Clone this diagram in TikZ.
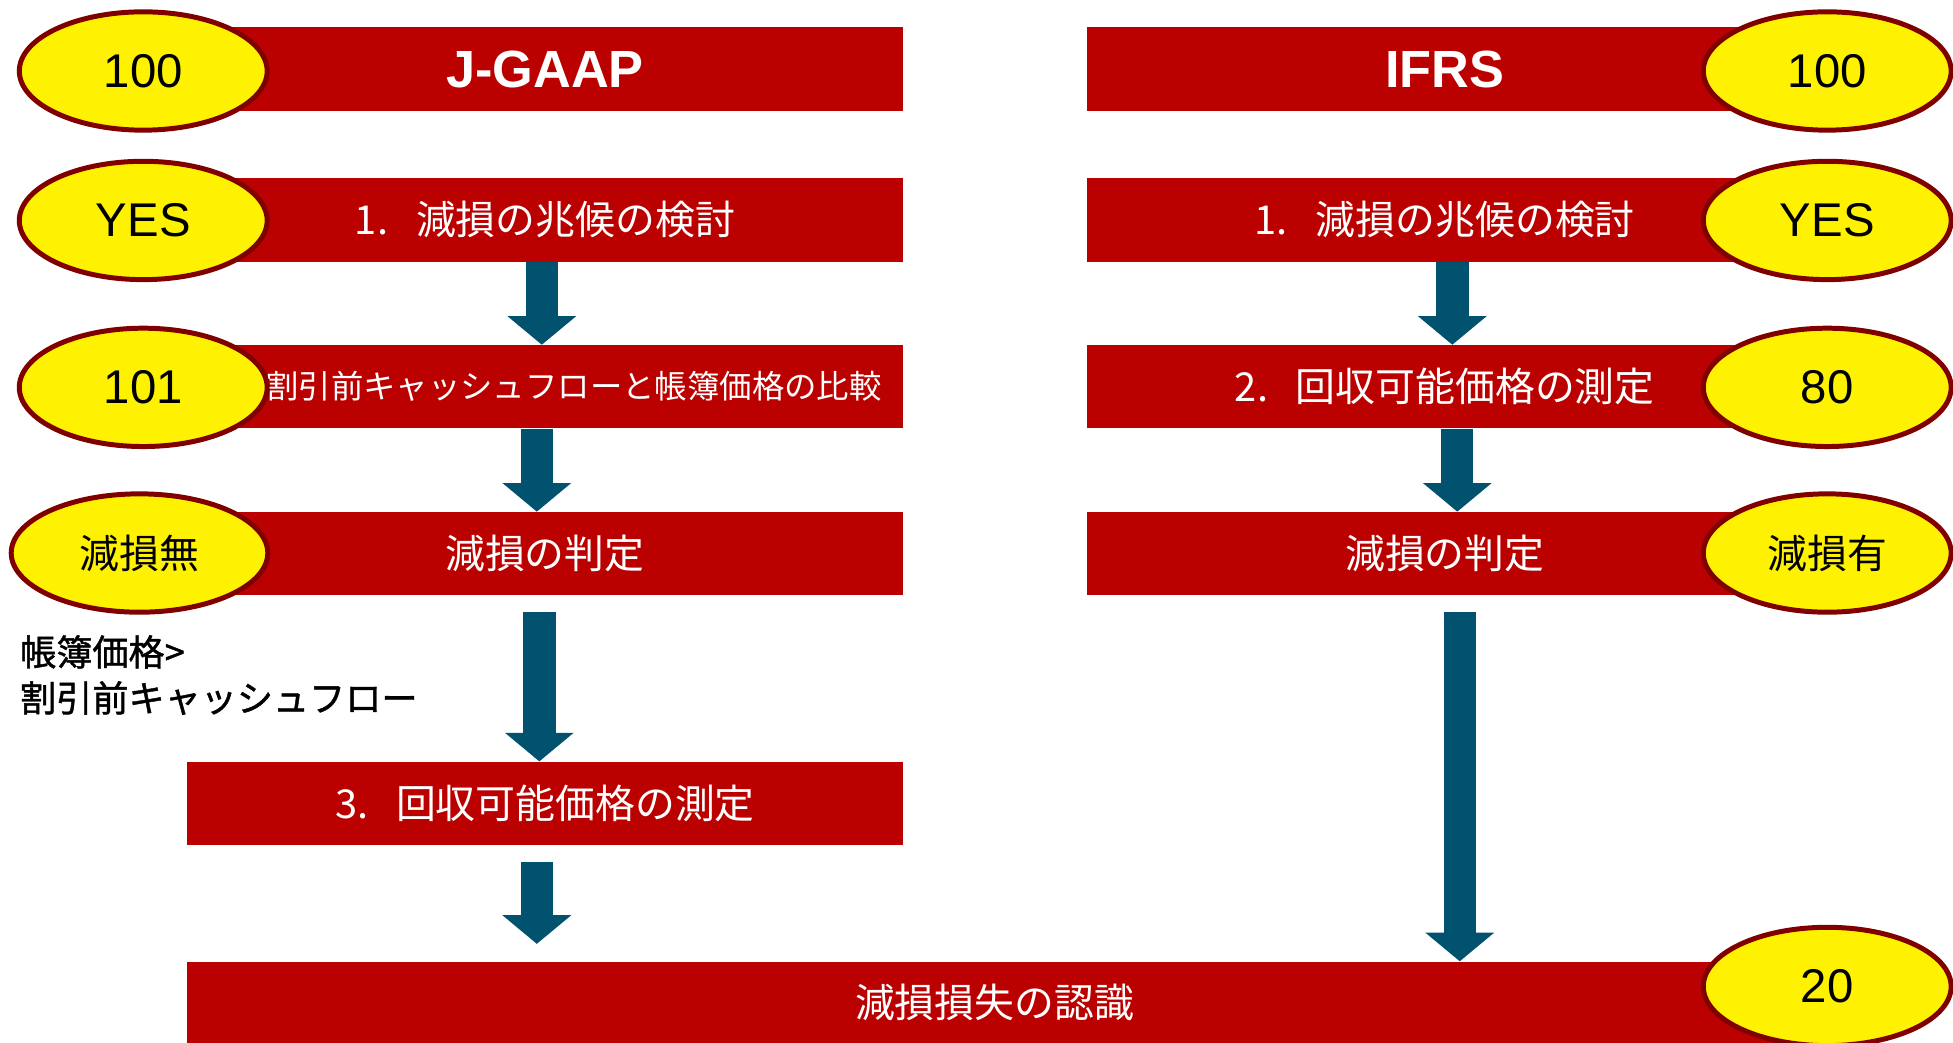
\documentclass[tikz,border=0pt]{standalone}
\usepackage{fontspec}
\setmainfont{Liberation Sans}
\newfontfamily\jp{Noto Sans CJK JP}
\newfontfamily\jpb[FakeBold=1.2]{Noto Sans CJK JP}
\usetikzlibrary{shapes.geometric,arrows.meta,calc}
\definecolor{barred}{RGB}{187,0,0}
\definecolor{ellborder}{RGB}{128,0,0}
\definecolor{arrteal}{RGB}{0,82,110}
\begin{document}
\begin{tikzpicture}[x=1pt,y=-1pt,
 bar/.style={fill=barred, minimum height=67pt, inner sep=0pt, text=white, font=\jp\fontsize{32}{32}\selectfont},
 barl/.style={bar, minimum width=575pt},
 barr/.style={bar, minimum width=574pt},
 oval/.style={ellipse, fill=yellow, draw=ellborder, line width=4pt, minimum width=199pt, minimum height=95pt, inner sep=0pt, font=\fontsize{38}{38}\selectfont},
 ovaljp/.style={oval, font=\jp\fontsize{32}{32}\selectfont},
 flow/.style={draw=arrteal, line width=26pt, -{Triangle[width=54pt,length=23pt]}},
 head/.style={font=\bfseries\fontsize{42}{42}\selectfont},
]
\useasboundingbox (0,0) rectangle (1568,837);
% left column bars
\node[barl, head] (l1) at (437.5,55.5) {J-GAAP};
\node[barl] (l2) at (437.5,176.5) {1.\hspace{0.7em}減損の兆候の検討};
\node[barl] (l3) at (437.5,310.5) {};
\node[anchor=east, text=white, font=\jp\fontsize{26}{26}\selectfont, inner sep=0pt] (l3t) at (708,310.5) {割引前キャッシュフローと帳簿価格の比較};
\node[barl] (l4) at (437.5,444.5) {減損の判定};
\node[barl] (l5) at (437.5,645) {3.\hspace{0.7em}回収可能価格の測定};
% right column bars
\node[barr, head] (r1) at (1160,55.5) {IFRS};
\node[barr] (r2) at (1160,176.5) {1.\hspace{0.7em}減損の兆候の検討};
\node[barr] (r3) at (1160,310.5) {2.\hspace{0.7em}回収可能価格の測定};
\node[barr] (r4) at (1160,444.5) {減損の判定};
% bottom bar
\node[bar, minimum width=1297pt, minimum height=66pt] (bot) at (798.5,805) {減損損失の認識};
% ovals
\node[oval] (e1) at (115,57) {100};
\node[oval] (e2) at (115,177) {YES};
\node[oval] (e3) at (115,311) {101};
\node[ovaljp, minimum width=206pt] (e4) at (112,444) {減損無};
\node[oval] (f1) at (1467,57) {100};
\node[oval] (f2) at (1467,177) {YES};
\node[oval] (f3) at (1467,311) {80};
\node[ovaljp] (f4) at (1467,444) {減損有};
\node[oval] (f5) at (1467,792) {20};
% side note
\node[anchor=west, align=left, inner sep=0pt, font=\jpb\fontsize{29}{37}\selectfont] (note) at (16,542) {帳簿価格>\\割引前キャッシュフロー};
% arrows left
\draw[flow] (l2.south -| 435,0) -- (l3.north -| 435,0);
\draw[flow] (l3.south -| 431,0) -- (l4.north -| 431,0);
\draw[flow] ([yshift=-13pt]l4.south -| 433,0) -- (l5.north -| 433,0);
\draw[flow] ([yshift=-13pt]l5.south -| 431,0) -- ([yshift=14pt]bot.north -| 431,0);
% arrows right
\draw[flow] (r2.south -| 1166,0) -- (r3.north -| 1166,0);
\draw[flow] (r3.south -| 1170,0) -- (r4.north -| 1170,0);
\draw[flow] ([yshift=-13pt]r4.south -| 1172,0) -- (bot.north -| 1172,0);
\end{tikzpicture}
\end{document}
